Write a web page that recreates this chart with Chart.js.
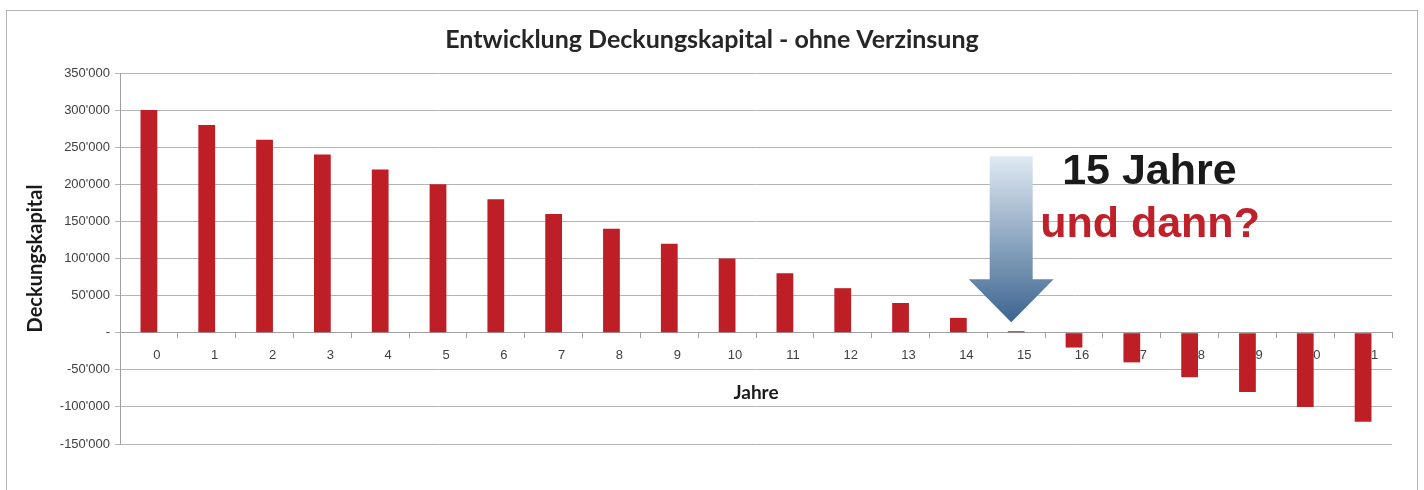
<!DOCTYPE html>
<html>
<head>
<meta charset="utf-8">
<script src="https://cdn.jsdelivr.net/npm/chart.js@4"></script>
<style>
    html, body { margin: 0; padding: 0; background: #fff; overflow: hidden; }
    #frame { position: absolute; left: 6px; top: 10px; width: 1410px; height: 520px; border: 1px solid #b5b5b5; }
    #wrap { position: absolute; left: 7px; top: 11px; width: 1410px; height: 500px; }
</style>
</head>
<body>
<div id="frame"></div>
<div id="wrap"><canvas id="kapitalChart"></canvas></div>
<script>
// Jahre seit Beginn
const jahre = ['0', '1', '2', '3', '4', '5', '6', '7', '8', '9', '10',
               '11', '12', '13', '14', '15', '16', '17', '18', '19', '20', '21'];
// Deckungskapital am Jahresende (ohne Verzinsung)
const deckungskapital = [300000, 280000, 260000, 240000, 220000, 200000, 180000, 160000,
                         140000, 120000, 100000, 80000, 60000, 40000, 20000, 2000,
                         -20000, -40000, -60000, -80000, -100000, -120000];
const yMin = -150000;
const yMax = 350000;
const yStep = 50000;

const titleFont = 'Lato, "Open Sans", sans-serif';
const tickFont = '"Liberation Sans", Arial, sans-serif';

function formatFranken(v) {
    if (v === 0) return '-';
    const neg = v < 0;
    const s = String(Math.abs(v)).replace(/\B(?=(\d{3})+(?!\d))/g, "'");
    return (neg ? '-' : '') + s;
}

// Pfeil und Hinweistext "15 Jahre - und dann?"
const hinweisPlugin = {
    id: 'hinweis',
    afterDraw(chart) {
        const ctx = chart.ctx;
        const x = chart.scales.x;
        const y = chart.scales.y;
        const tipX = x.getPixelForValue(15) - 5;
        const tipY = y.getPixelForValue(14000);
        const headH = 43, shaftH = 123, shaftW = 21.5, headW = 42.5;
        const top = tipY - headH - shaftH;

        const grad = ctx.createLinearGradient(0, top, 0, tipY);
        grad.addColorStop(0, '#e0e9f3');
        grad.addColorStop(1, '#3d6590');

        ctx.save();
        ctx.beginPath();
        ctx.moveTo(tipX - shaftW, top);
        ctx.lineTo(tipX + shaftW, top);
        ctx.lineTo(tipX + shaftW, tipY - headH);
        ctx.lineTo(tipX + headW, tipY - headH);
        ctx.lineTo(tipX, tipY);
        ctx.lineTo(tipX - headW, tipY - headH);
        ctx.lineTo(tipX - shaftW, tipY - headH);
        ctx.closePath();
        ctx.fillStyle = grad;
        ctx.fill();

        ctx.font = 'bold 43px "Liberation Sans", Arial, sans-serif';
        ctx.textBaseline = 'alphabetic';
        ctx.textAlign = 'left';
        ctx.fillStyle = '#1a1a1a';
        ctx.fillText('15 Jahre', tipX + 51, top + 28);
        ctx.fillStyle = '#c0202a';
        ctx.fillText('und dann?', tipX + 29, top + 81);
        ctx.restore();
    }
};

document.addEventListener('DOMContentLoaded', function () {
    const ctx = document.getElementById('kapitalChart').getContext('2d');
    new Chart(ctx, {
        type: 'bar',
        data: {
            labels: jahre,
            datasets: [{
                label: 'Deckungskapital',
                data: deckungskapital,
                backgroundColor: '#be1e26',
                borderWidth: 0,
                categoryPercentage: 1,
                barPercentage: 0.29
            }]
        },
        options: {
            responsive: true,
            maintainAspectRatio: false,
            animation: false,
            layout: { padding: { left: 25, right: 25, top: 0, bottom: 67 } },
            plugins: {
                legend: { display: false },
                tooltip: { enabled: false },
                title: {
                    display: true,
                    text: 'Entwicklung Deckungskapital - ohne Verzinsung',
                    color: '#262626',
                    font: { family: titleFont, size: 25, weight: 'bold' },
                    padding: { top: 14, bottom: 18 }
                }
            },
            scales: {
                y: {
                    min: yMin,
                    max: yMax,
                    afterFit(s) { s.width = 88; },
                    ticks: {
                        stepSize: yStep,
                        color: '#404040',
                        font: { family: tickFont, size: 13 },
                        padding: 5,
                        callback: (v) => formatFranken(v)
                    },
                    grid: { color: '#b4b4b4', tickLength: 5 },
                    border: { color: '#a0a0a0' },
                    title: {
                        display: true,
                        text: 'Deckungskapital',
                        color: '#1a1a1a',
                        font: { family: titleFont, size: 20, weight: 'bold' },
                        padding: { top: -8, bottom: 0 }
                    }
                },
                x: {
                    position: { y: 0 },
                    grid: { display: true, drawOnChartArea: false, offset: true, tickLength: 5, color: '#a0a0a0' },
                    border: { color: '#a0a0a0' },
                    ticks: {
                        labelOffset: 8,
                        padding: 10,
                        autoSkip: false,
                        maxRotation: 0,
                        color: '#404040',
                        font: { family: tickFont, size: 13 }
                    },
                    title: {
                        display: true,
                        text: 'Jahre',
                        color: '#1a1a1a',
                        font: { family: titleFont, size: 19, weight: 'bold' },
                        padding: { top: 8, bottom: 0 }
                    }
                }
            }
        },
        plugins: [hinweisPlugin]
    });
});
</script>
</body>
</html>
